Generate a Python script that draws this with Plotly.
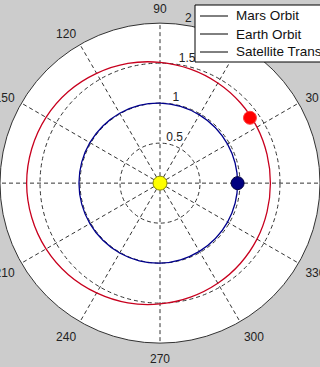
import plotly.graph_objects as go

# ---- data ----
orbit_theta = [0, 15, 30, 45, 60, 75, 90, 105, 120, 135, 150, 165, 180,
               195, 210, 225, 240, 255, 270, 285, 300, 315, 330, 345, 360]
mars_r = [1.38, 1.385, 1.40, 1.42, 1.445, 1.475, 1.51, 1.55, 1.585, 1.62, 1.645, 1.66, 1.667,
          1.66, 1.645, 1.62, 1.585, 1.55, 1.51, 1.475, 1.445, 1.42, 1.40, 1.385, 1.38]
earth_r = [0.97, 0.972, 0.975, 0.98, 0.985, 0.992, 1.0, 1.005, 1.008, 1.01, 1.012, 1.013, 1.013,
           1.013, 1.012, 1.01, 1.008, 1.005, 1.0, 0.992, 0.985, 0.98, 0.975, 0.972, 0.97]

sun_pos = (0.0, 0.0)       # (r, theta)
earth_pos = (0.97, 0.0)
mars_pos = (1.39, 36.0)

legend_names = ["Mars Orbit", "Earth Orbit", "Satellite Transfer"]
radial_ticks = [0.5, 1, 1.5, 2]
radial_labels = ["0.5", "1", "1.5", "2"]
radial_label_angle = 81
angular_ticks = [0, 30, 60, 90, 120, 150, 180, 210, 240, 270, 300, 330]

W, H = 320, 367

fig = go.Figure()

fig.add_trace(go.Scatterpolar(r=mars_r, theta=orbit_theta, mode="lines",
                              line=dict(color="rgb(200,0,30)", width=1.3, shape="spline"),
                              showlegend=False, hoverinfo="skip"))
fig.add_trace(go.Scatterpolar(r=earth_r, theta=orbit_theta, mode="lines",
                              line=dict(color="rgb(0,0,140)", width=1.3, shape="spline"),
                              showlegend=False, hoverinfo="skip"))

# radial tick labels, MATLAB style (just outside each ring)
fig.add_trace(go.Scatterpolar(r=radial_ticks, theta=[radial_label_angle] * len(radial_ticks),
                              mode="text", text=radial_labels, textposition="top right",
                              textfont=dict(size=12, color="#222222",
                                            family="Liberation Sans, Arial, sans-serif"),
                              cliponaxis=False, showlegend=False, hoverinfo="skip"))

fig.add_trace(go.Scatterpolar(r=[sun_pos[0]], theta=[sun_pos[1]], mode="markers",
                              marker=dict(color="#ffff00", size=14,
                                          line=dict(color="#8a8a00", width=1)),
                              showlegend=False))
fig.add_trace(go.Scatterpolar(r=[earth_pos[0]], theta=[earth_pos[1]], mode="markers",
                              marker=dict(color="#000080", size=13,
                                          line=dict(color="#000040", width=1)),
                              showlegend=False))
fig.add_trace(go.Scatterpolar(r=[mars_pos[0]], theta=[mars_pos[1]], mode="markers",
                              marker=dict(color="#ff0000", size=13,
                                          line=dict(color="#ff4040", width=1)),
                              showlegend=False))

# ---- legend box (MATLAB style, black line samples) ----
def px(x):
    return x / W

def py(y):
    return 1 - y / H

shapes = [dict(type="rect", xref="paper", yref="paper", layer="above",
               x0=px(195), x1=px(340), y0=py(62), y1=py(5),
               fillcolor="white", line=dict(color="black", width=1))]
annotations = []
for i, name in enumerate(legend_names):
    yc = 16 + 18 * i
    shapes.append(dict(type="line", xref="paper", yref="paper", layer="above",
                       x0=px(200), x1=px(228), y0=py(yc), y1=py(yc),
                       line=dict(color="black", width=1)))
    annotations.append(dict(text=name, xref="paper", yref="paper",
                            x=px(234), y=py(yc), xanchor="left", yanchor="middle",
                            showarrow=False,
                            font=dict(size=13.5, color="#111111",
                                      family="Liberation Sans, Arial, sans-serif")))

fig.update_layout(
    width=W, height=H,
    paper_bgcolor="#cccccc",
    margin=dict(l=0, r=0, t=0, b=0, autoexpand=False),
    showlegend=False,
    font=dict(family="Liberation Sans, Arial, sans-serif", size=12, color="#222222"),
    shapes=shapes,
    annotations=annotations,
    polar=dict(
        domain=dict(x=[0.0, 1.0], y=[0.065, 0.937]),
        bgcolor="white",
        angularaxis=dict(
            rotation=0, direction="counterclockwise",
            tickmode="array", tickvals=angular_ticks,
            ticktext=[str(t) for t in angular_ticks],
            ticks="outside", ticklen=5, tickcolor="rgba(0,0,0,0)",
            showline=True, linecolor="#333333", linewidth=1,
            showgrid=True, gridcolor="#333333", gridwidth=1, griddash="4px,3px",
            tickfont=dict(size=12, color="#222222"),
        ),
        radialaxis=dict(
            range=[0, 2], angle=80,
            tickmode="array", tickvals=radial_ticks,
            showticklabels=False, ticks="", showline=False,
            showgrid=True, gridcolor="#333333", gridwidth=1, griddash="4px,3px",
        ),
    ),
)

fig.write_html("out.html")
